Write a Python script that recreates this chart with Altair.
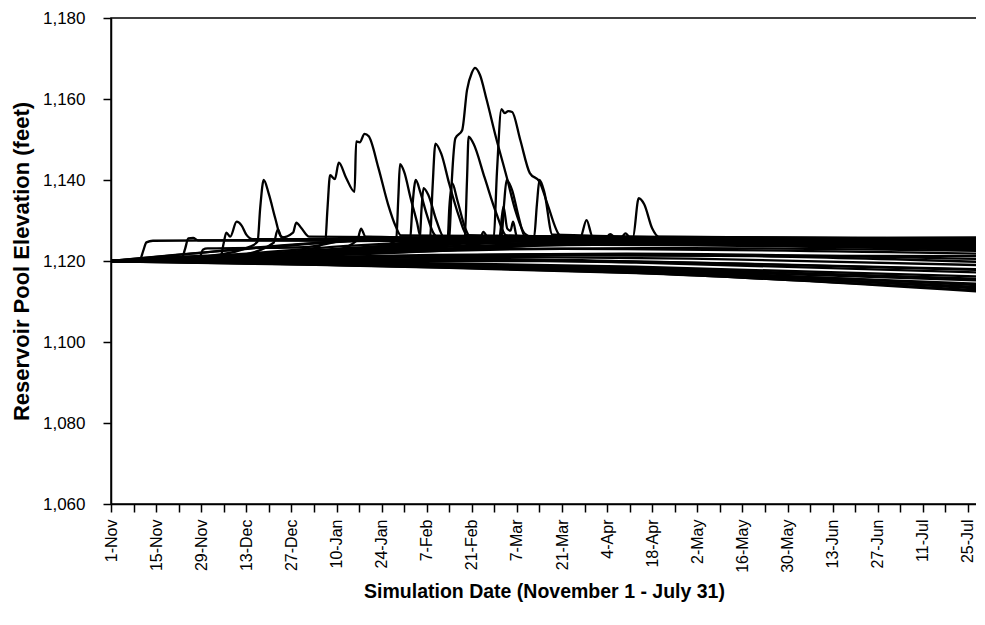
import altair as alt
import pandas as pd

# x tick labels (every 14 days from 1-Nov), ticks every 7 days
tick_labels = ["1-Nov", "15-Nov", "29-Nov", "13-Dec", "27-Dec", "10-Jan", "24-Jan",
               "7-Feb", "21-Feb", "7-Mar", "21-Mar", "4-Apr", "18-Apr", "2-May",
               "16-May", "30-May", "13-Jun", "27-Jun", "11-Jul", "25-Jul"]
y_ticks = [1060, 1080, 1100, 1120, 1140, 1160, 1180]

# simulation traces: [day since Nov 1, pool elevation (ft)]
t01 = [[0, 1120], [9, 1120.4], [10, 1122.5], [11, 1124.6], [13, 1125], [150, 1125.6], [269, 1125.2]]
t02 = [[0, 1120], [22, 1120.8], [23, 1123], [24, 1125.6], [25.5, 1125.7], [27, 1125.1], [269, 1124.6]]
t03 = [[0, 1120], [27.5, 1120.9], [28.5, 1122.8], [30, 1123.1], [60, 1123.4], [75, 1125.2], [269, 1124]]
t04 = [[0, 1120], [34, 1121], [35, 1124.5], [35.8, 1127], [37, 1126], [39, 1129.7], [40.5, 1128.8],
       [42, 1126.5], [44, 1125.4], [269, 1125]]
t05 = [[0, 1120], [30, 1121.2], [43, 1123.5], [45.5, 1124.8], [46.3, 1133], [47.4, 1140], [49, 1136.5],
       [51, 1130.5], [52.6, 1126.2], [55, 1125.4], [269, 1125.3]]
t06 = [[0, 1120], [40, 1121.5], [50.5, 1124.5], [51.8, 1127.8], [53, 1125.8], [56.5, 1127], [57.5, 1129.5],
       [59, 1128.2], [61.5, 1126], [269, 1124.8]]
t07 = [[0, 1120], [60, 1122.5], [66.5, 1124.8], [67.2, 1133], [68, 1141.2], [69.5, 1140.2], [70.7, 1144.3],
       [73, 1140.5], [75.6, 1137.1], [76.1, 1149.5], [77.2, 1149.3], [78.7, 1151.4], [80, 1150.8],
       [83, 1143], [86, 1134], [88.4, 1128.5], [90, 1126.3], [269, 1125.5]]
t08 = [[0, 1120], [70, 1122.8], [76.5, 1125.2], [77.6, 1128], [79, 1126], [269, 1124.2]]
t09 = [[0, 1120], [80, 1123], [88.5, 1125], [89.2, 1136], [89.7, 1143.9], [91, 1142], [93, 1135.5],
       [95, 1129.5], [96, 1126.2], [269, 1124.9]]
t10 = [[0, 1120], [85, 1123.8], [92.8, 1125.1], [93.6, 1134], [94.6, 1140], [96, 1137], [98, 1131.5],
       [100, 1127], [102, 1125.6], [269, 1125.4]]
t11 = [[0, 1120], [90, 1124], [95.8, 1125.3], [96.4, 1133], [97, 1138], [98.5, 1136.3], [101, 1130],
       [103.3, 1126], [269, 1123.8]]
t12 = [[0, 1120], [95, 1124.5], [99, 1125.3], [99.8, 1138], [100.7, 1149], [102.5, 1146.5], [105, 1139],
       [108, 1131], [110.5, 1126.4], [269, 1125]]
t13 = [[0, 1120], [100, 1124.8], [104.5, 1125.5], [105, 1133], [105.9, 1139.2], [107.5, 1135], [110, 1128],
       [111.5, 1126], [269, 1124.5]]
t14 = [[0, 1120], [100, 1124.2], [105, 1125.7], [105.8, 1140], [106.9, 1150.3], [109, 1152.3],
       [110.5, 1162.2], [112, 1166.5], [113, 1167.7], [114.5, 1166], [116.6, 1159.8], [119.5, 1150.5],
       [122.8, 1140.8], [125.5, 1132.5], [128.4, 1126.8], [131, 1125.8], [269, 1125.6]]
t15 = [[0, 1120], [105, 1124.6], [109.8, 1125.8], [110.5, 1140], [111, 1150.7], [112.5, 1149],
       [116, 1140.5], [119.5, 1132], [122.8, 1126.3], [269, 1124.6]]
t16 = [[0, 1120], [110, 1124.9], [118.8, 1125.8], [119.8, 1142], [121.2, 1157.5], [122.2, 1156.5],
       [123.3, 1157], [124.5, 1156.8], [127, 1150], [130, 1141.7], [133, 1139.6], [135.5, 1134],
       [139.2, 1126.4], [141, 1125.8], [269, 1125.3]]
t17 = [[0, 1120], [115, 1125], [121.2, 1125.8], [122, 1134], [122.8, 1140], [124.5, 1137.5],
       [126.5, 1131], [128.4, 1126.2], [269, 1123.6]]
t18 = [[0, 1120], [120, 1125], [131.3, 1125.8], [132.2, 1134], [133, 1140], [134.5, 1137], [137, 1126.5],
       [269, 1125]]
t19 = [[0, 1120], [140, 1125.2], [145.7, 1125.8], [147.6, 1130.1], [149.5, 1126], [269, 1124.3]]
t20 = [[0, 1120], [155, 1125.4], [162, 1125.8], [163.8, 1135.5], [165.5, 1134], [168, 1128], [170, 1126],
       [269, 1125.4]]
t21 = [[0, 1120], [150, 1125], [153.5, 1125.6], [155, 1126.6], [156.5, 1125.8], [158.5, 1125.9],
       [159.7, 1126.8], [161, 1125.9], [269, 1125]]
t22 = [[0, 1120], [118, 1124.5], [120.5, 1125.5], [121.8, 1133.4], [123, 1128], [124, 1127.5],
       [124.8, 1129.7], [126, 1126], [269, 1124.8]]
t23 = [[0, 1120], [112, 1124.8], [114.5, 1125.5], [115.6, 1127.2], [117, 1125.7], [269, 1123.2]]
u01 = [[0, 1120], [20, 1121.5], [50, 1123.5], [80, 1125], [269, 1124.5]]
u02 = [[0, 1120], [30, 1121], [70, 1123], [110, 1124.5], [269, 1123.5]]
u03 = [[0, 1120], [40, 1121], [90, 1122.5], [150, 1124], [269, 1122.8]]
u04 = [[0, 1120], [15, 1120.8], [60, 1122], [120, 1123], [180, 1123.2], [269, 1122.5]]
u05 = [[0, 1120], [25, 1121.8], [55, 1124], [90, 1125.3], [269, 1125.8]]
u06 = [[0, 1120], [35, 1121.4], [75, 1123.8], [120, 1125], [269, 1124]]
u07 = [[0, 1120], [45, 1121.2], [100, 1123.5], [160, 1124.2], [269, 1123]]
u08 = [[0, 1120], [20, 1120.6], [80, 1122], [140, 1123], [269, 1121.8]]
m01 = [[0, 1120], [40, 1120.6], [100, 1121.5], [160, 1121.8], [269, 1120.5]]
m02 = [[0, 1120], [60, 1120.5], [120, 1121], [180, 1120.6], [269, 1119]]
m03 = [[0, 1120], [50, 1120.2], [110, 1120.5], [170, 1119.8], [269, 1118]]
m04 = [[0, 1120], [100, 1120.3], [163, 1119.6], [269, 1117.2]]
m05 = [[0, 1120], [30, 1120.4], [90, 1121.2], [150, 1121.4], [269, 1121.2]]
m06 = [[0, 1120], [70, 1120.8], [130, 1121.6], [200, 1121.2], [269, 1119.8]]
m07 = [[0, 1120], [80, 1120], [140, 1120], [200, 1119.2], [269, 1117.8]]
d01 = [[0, 1120], [60, 1119.8], [105, 1119.4], [163, 1118.6], [269, 1116.2]]
d02 = [[0, 1120], [60, 1119.6], [105, 1119], [163, 1118], [269, 1115.2]]
d03 = [[0, 1120], [60, 1119.4], [105, 1118.8], [163, 1117.6], [269, 1114.4]]
d04 = [[0, 1120], [60, 1119.2], [105, 1118.5], [163, 1117.3], [269, 1113.6]]
d05 = [[0, 1119.9], [60, 1119.1], [105, 1118.3], [163, 1117], [269, 1112.8]]
d06 = [[0, 1120], [60, 1119.3], [105, 1118.6], [163, 1117.4], [269, 1113.2]]
d07 = [[0, 1120], [60, 1119.5], [105, 1118.9], [163, 1117.8], [269, 1114]]
d08 = [[0, 1120], [60, 1119.7], [105, 1119.2], [163, 1118.3], [269, 1115.6]]
d09 = [[0, 1120], [60, 1119.35], [105, 1118.7], [163, 1117.5], [269, 1113.4]]
d10 = [[0, 1119.9], [60, 1119.15], [105, 1118.4], [163, 1117.1], [269, 1112.5]]

traces = {
    "t01": t01, "t02": t02, "t03": t03, "t04": t04, "t05": t05, "t06": t06, "t07": t07,
    "t08": t08, "t09": t09, "t10": t10, "t11": t11, "t12": t12, "t13": t13, "t14": t14,
    "t15": t15, "t16": t16, "t17": t17, "t18": t18, "t19": t19, "t20": t20, "t21": t21,
    "t22": t22, "t23": t23, "u01": u01, "u02": u02, "u03": u03, "u04": u04, "u05": u05,
    "u06": u06, "u07": u07, "u08": u08, "m01": m01, "m02": m02, "m03": m03, "m04": m04,
    "m05": m05, "m06": m06, "m07": m07, "d01": d01, "d02": d02, "d03": d03, "d04": d04,
    "d05": d05, "d06": d06, "d07": d07, "d08": d08, "d09": d09, "d10": d10,
}

rows = []
for name, pts in traces.items():
    for i, (d, v) in enumerate(pts):
        rows.append({"trace": name, "day": d, "elev": v, "order": i})
df = pd.DataFrame(rows)

js_labels = "[" + ",".join("'" + s + "'" for s in tick_labels) + "]"
label_expr = "datum.value % 14 == 0 ? " + js_labels + "[datum.value / 14] : ''"

FONT = "Liberation Sans"

chart = alt.Chart(df).mark_line(
    color="black", strokeWidth=2.3, interpolate="monotone", clip=True
).encode(
    x=alt.X("day:Q",
            scale=alt.Scale(domain=[0, 268.8], nice=False, zero=False),
            axis=alt.Axis(values=list(range(0, 267, 7)), labelExpr=label_expr,
                          labelAngle=-90, labelAlign="right", labelBaseline="middle",
                          labelPadding=7, tickSize=8, tickWidth=1.5, tickColor="black",
                          domainColor="black", domainWidth=1.5, grid=False,
                          labelFont=FONT, labelFontSize=16, labelColor="black",
                          labelOverlap=False, labelBound=False, labelFlush=False,
                          title="Simulation Date (November 1 - July 31)",
                          titleFont=FONT, titleFontSize=19.5, titleFontWeight="bold",
                          titleColor="black", titlePadding=10)),
    y=alt.Y("elev:Q",
            scale=alt.Scale(domain=[1060, 1180], nice=False, zero=False),
            axis=alt.Axis(values=y_ticks, format=",.0f", tickSize=8, tickWidth=1.5,
                          tickColor="black", domainColor="black", domainWidth=1.5,
                          grid=False, labelFont=FONT, labelFontSize=17, labelColor="black",
                          labelPadding=18,
                          title="Reservoir Pool Elevation (feet)",
                          titleFont=FONT, titleFontSize=22, titleFontWeight="bold",
                          titleColor="black", titlePadding=9)),
    detail="trace:N",
    order="order:Q",
).properties(
    width=866, height=486,
    autosize=alt.AutoSizeParams(type="none"),
    padding={"left": 103, "top": 10, "right": -1, "bottom": 105},
    background="white",
).configure_view(stroke="black", strokeWidth=1.5)

chart.save("out.html", embed_options={"renderer": "svg", "actions": False})
